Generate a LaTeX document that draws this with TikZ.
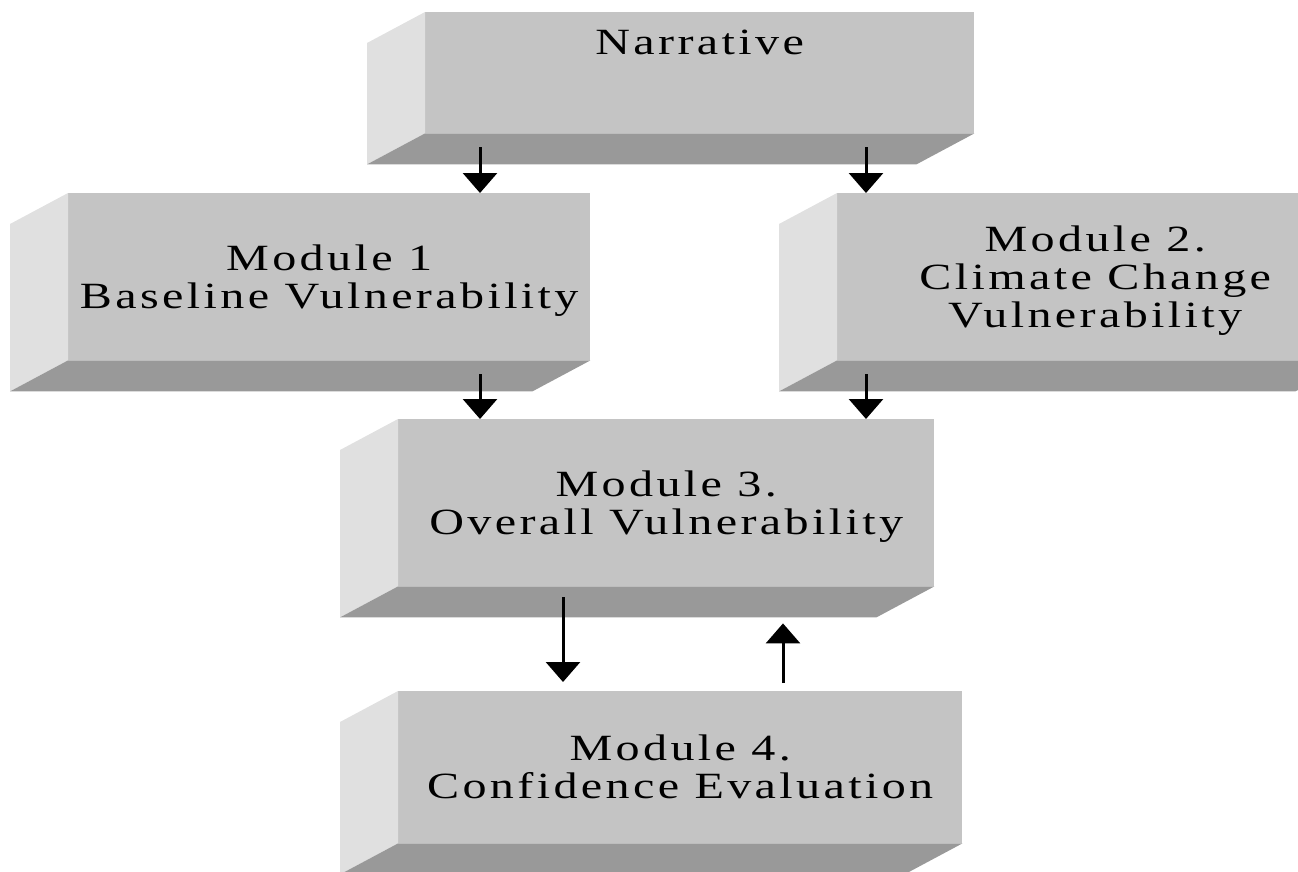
\documentclass[tikz,border=0pt]{standalone}
\usepackage{fontspec}
\usepackage{graphicx}
\setmainfont{Liberation Serif}[LetterSpace=7]
\usetikzlibrary{calc,arrows.meta}
\definecolor{frontgray}{HTML}{C4C4C4}
\definecolor{sidegray}{HTML}{E0E0E0}
\definecolor{bottomgray}{HTML}{999999}
\newcommand\boxtext[1]{\raisebox{-5pt}[\height][\depth]{\scalebox{1.3}[1]{\begin{tabular}{@{}c@{}}#1\end{tabular}}}}
\tikzset{
  boxfront/.style={fill=frontgray, draw=none, inner sep=0pt, align=center,
    anchor=north west, font=\fontsize{37}{38}\selectfont},
  arr/.style={line width=3pt, -{Triangle[length=20pt,width=34pt]}}
}
\begin{document}
\begin{tikzpicture}[x=1pt,y=-1pt]
\useasboundingbox (0,0) rectangle (1298,871);
\clip (0,0) rectangle (1298,871);
% front faces
\node[boxfront, minimum width=549pt, minimum height=121pt, text height=23pt, text depth=60pt] (narr) at (425,12) {\scalebox{1.3}[1]{Narrative}};
\node[boxfront, minimum width=522pt, minimum height=167pt] (m1) at (68,193) {\boxtext{Module 1\\Baseline Vulnerability}};
\node[boxfront, minimum width=516pt, minimum height=167pt] (m2) at (837,193) {\boxtext{Module 2.\\Climate Change\\Vulnerability}};
\node[boxfront, minimum width=536pt, minimum height=167pt] (m3) at (398,419) {\boxtext{Module 3.\\Overall Vulnerability}};
\node[boxfront, minimum width=564pt, minimum height=152pt] (m4) at (398,691) {\boxtext{Module 4.\\Confidence Evaluation}};
% side and bottom faces
\foreach \n in {narr,m1,m2,m3,m4}{
  \fill[sidegray] (\n.north west) -- (\n.south west) -- ++(-58,31) -- ($(\n.north west)+(-58,31)$) -- cycle;
  \fill[bottomgray] (\n.south west) -- (\n.south east) -- ++(-58,31) -- ($(\n.south west)+(-58,31)$) -- cycle;
}
% connectors
\draw[arr] ($(narr.south west)+(55,14)$) -- ($(narr.south west |- m1.north)+(55,0)$);
\draw[arr] ($(narr.south west)+(441,14)$) -- ($(narr.south west |- m2.north)+(441,0)$);
\draw[arr] ($(m1.south west)+(412,14)$) -- ($(m1.south west |- m3.north)+(412,0)$);
\draw[arr] ($(m2.south west)+(29,14)$) -- ($(m2.south west |- m3.north)+(29,0)$);
\draw[arr] ($(m3.south west)+(165,11)$) -- ($(m3.south west |- m4.north)+(165,-9)$);
\draw[arr] ($(m3.south west |- m4.north)+(385,-8)$) -- ($(m3.south west)+(385,37)$);
\end{tikzpicture}
\end{document}
